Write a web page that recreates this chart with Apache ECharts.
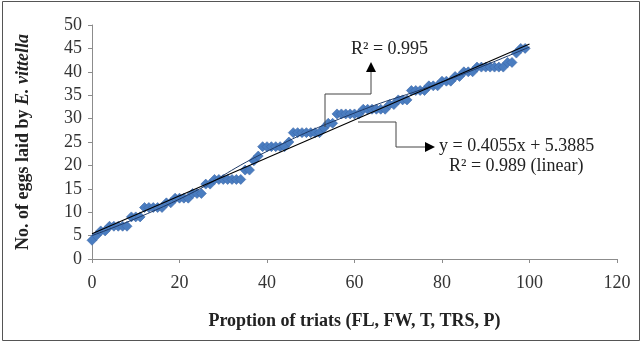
<!DOCTYPE html>
<html>
<head>
<meta charset="utf-8">
<script src="https://cdn.jsdelivr.net/npm/echarts@6/dist/echarts.min.js"></script>
<style>
html,body{margin:0;padding:0;background:#fff;}
#c{width:643px;height:344px;}
</style>
</head>
<body>
<div id="c"></div>
<script>
// Data
var xValues = [0,1,2,3,4,5,6,7,8,9,10,11,12,13,14,15,16,17,18,19,20,21,22,23,24,25,26,27,28,29,30,31,32,33,34,35,36,37,38,39,40,41,42,43,44,45,46,47,48,49,50,51,52,53,54,55,56,57,58,59,60,61,62,63,64,65,66,67,68,69,70,71,72,73,74,75,76,77,78,79,80,81,82,83,84,85,86,87,88,89,90,91,92,93,94,95,96,97,98,99];
var eggs = [4,5,6,6,7,7,7,7,7,9,9,9,11,11,11,11,11,12,12,13,13,13,13,14,14,14,16,16,17,17,17,17,17,17,17,19,19,21,22,24,24,24,24,24,24,25,27,27,27,27,27,27,27,28,29,29,31,31,31,31,31,31,32,32,32,32,32,32,33,33,34,34,34,36,36,36,36,37,37,37,38,38,38,39,39,40,40,40,41,41,41,41,41,41,41,42,42,44,45,45];
// Linear trend end points (y = 0.4055x + 5.3885)
var linearX = [0, 100];
var linearY = [5.3885, 45.9385];
// Polynomial trend (R² = 0.995)
var polyX = [0, 20, 40, 60, 80, 100];
var polyY = [5.0, 12.8, 23.0, 31.2, 37.8, 45.3];
var xTicks = {min: 0, max: 120, interval: 20};
var yTicks = {min: 0, max: 50, interval: 5};

function zip(a, b) { return a.map(function (v, i) { return [v, b[i]]; }); }

var serif = '"Liberation Serif", "DejaVu Serif", serif';
var FS = 18;
var chart = echarts.init(document.getElementById('c'), null, {renderer: 'canvas'});
chart.setOption({
  animation: false,
  backgroundColor: '#fff',
  grid: {left: 92, right: 26, top: 25, bottom: 85},
  xAxis: {
    type: 'value', min: xTicks.min, max: xTicks.max, interval: xTicks.interval,
    name: 'Proption of triats (FL, FW, T, TRS, P)',
    nameLocation: 'middle', nameGap: 53,
    nameTextStyle: {fontFamily: serif, fontWeight: 'bold', fontSize: FS, color: '#222'},
    axisLine: {lineStyle: {color: '#8c8c8c'}},
    axisTick: {show: true, length: 4, lineStyle: {color: '#8c8c8c'}},
    axisLabel: {fontFamily: serif, fontSize: FS, color: '#333', margin: 15},
    splitLine: {show: false}
  },
  yAxis: {
    type: 'value', min: yTicks.min, max: yTicks.max, interval: yTicks.interval,
    name: '{b|No. of eggs laid by }{i|E. vittella}',
    nameLocation: 'middle', nameGap: 60, nameRotate: 90,
    nameTextStyle: {
      fontFamily: serif, fontWeight: 'bold', fontSize: FS, color: '#222',
      rich: {
        b: {fontFamily: serif, fontWeight: 'bold', fontSize: FS, color: '#222'},
        i: {fontFamily: serif, fontWeight: 'bold', fontStyle: 'italic', fontSize: FS, color: '#222'}
      }
    },
    axisLine: {show: true, lineStyle: {color: '#8c8c8c'}},
    axisTick: {show: true, length: 4, lineStyle: {color: '#8c8c8c'}},
    axisLabel: {fontFamily: serif, fontSize: FS, color: '#333', margin: 10},
    splitLine: {show: false}
  },
  series: [
    {
      type: 'scatter', data: zip(xValues, eggs),
      symbol: 'diamond', symbolSize: [10, 10],
      itemStyle: {color: '#4A7DC0', borderColor: '#3A67A8', borderWidth: 0.6, opacity: 1},
      z: 2
    },
    {
      type: 'line', data: zip(polyX, polyY), smooth: true, symbol: 'none',
      lineStyle: {color: '#1F3A66', width: 1}, z: 3
    },
    {
      type: 'line', data: zip(linearX, linearY), symbol: 'none',
      lineStyle: {color: '#000', width: 1.1}, z: 4
    }
  ],
  graphic: [
    {type: 'rect', shape: {x: 2.5, y: 1.5, width: 637, height: 339}, style: {fill: 'none', stroke: '#555', lineWidth: 1}, silent: true},
    {type: 'polyline', shape: {points: [[325, 127], [325, 94], [371, 94], [371, 71]]}, style: {fill: 'none', stroke: '#444', lineWidth: 1}, z: 10},
    {type: 'polygon', shape: {points: [[371, 62], [366, 72], [376, 72]]}, style: {fill: '#000'}, z: 10},
    {type: 'text', left: 351, top: 40, style: {text: 'R² = 0.995', font: FS + 'px ' + serif, fill: '#222'}, z: 10},
    {type: 'polyline', shape: {points: [[358, 122], [396, 122], [396, 147], [426, 147]]}, style: {fill: 'none', stroke: '#444', lineWidth: 1}, z: 10},
    {type: 'polygon', shape: {points: [[435, 147], [425, 142], [425, 152]]}, style: {fill: '#000'}, z: 10},
    {type: 'text', left: 439, top: 137, style: {text: 'y = 0.4055x + 5.3885', font: FS + 'px ' + serif, fill: '#222'}, z: 10},
    {type: 'text', left: 449, top: 157, style: {text: 'R² = 0.989 (linear)', font: FS + 'px ' + serif, fill: '#222'}, z: 10}
  ]
});
</script>
</body>
</html>
